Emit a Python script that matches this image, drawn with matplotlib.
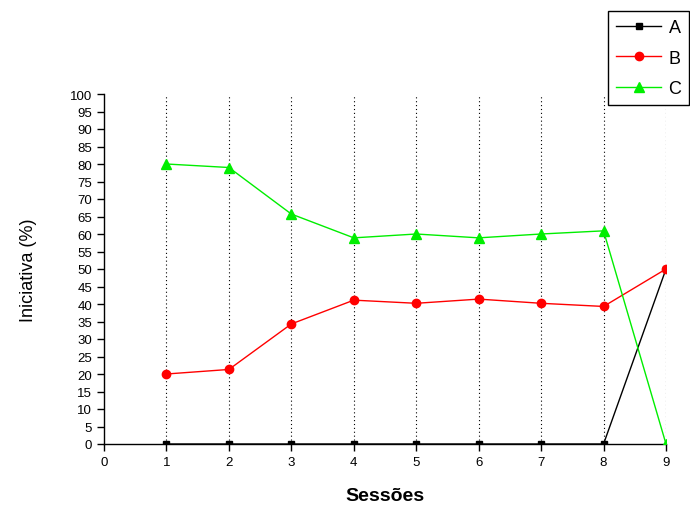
import matplotlib
matplotlib.use("Agg")
import matplotlib.pyplot as plt

sessions = [1, 2, 3, 4, 5, 6, 7, 8, 9]
serie_a = [0, 0, 0, 0, 0, 0, 0, 0, 50]
serie_b = [20, 21.3, 34.3, 41.1, 40.2, 41.4, 40.2, 39.3, 50]
serie_c = [80, 79, 65.7, 58.9, 60, 58.9, 60, 60.9, 0]
labels = ["A", "B", "C"]

plt.rcParams['font.family'] = ['Liberation Sans', 'DejaVu Sans']

fig = plt.figure(figsize=(6.9, 5.06), dpi=100)
ax = fig.add_axes([104/690, 1-445/506, (666-104)/690, (445-95)/506])

for x in sessions:
    ax.axvline(x, color='black', linestyle=(0, (1, 2.5)), linewidth=0.8, zorder=1)

ax.plot(sessions, serie_a, color='black', marker='s', markersize=5, linewidth=1, label=labels[0], zorder=3)
ax.plot(sessions, serie_b, color='#ff0000', marker='o', markersize=6, linewidth=1, label=labels[1], zorder=4)
ax.plot(sessions, serie_c, color='#00ee00', marker='^', markersize=7, linewidth=1, label=labels[2], zorder=5)

ax.set_xlim(0, 9)
ax.set_ylim(0, 100)
ax.set_xticks(range(0, 10))
ax.set_yticks(range(0, 101, 5))
ax.spines['top'].set_visible(False)
ax.spines['right'].set_visible(False)
ax.tick_params(axis='both', labelsize=9.5, direction='out', length=5, width=1)
ax.set_xlabel('Sessões', fontsize=14, fontweight='bold', labelpad=14)
ax.set_ylabel('Iniciativa (%)', fontsize=13, labelpad=24)
for sp in ax.spines.values():
    sp.set_linewidth(1)

leg = fig.legend(loc='upper left', bbox_to_anchor=(608/690, 1-12/506), fontsize=13,
                 frameon=True, fancybox=False, edgecolor='black', framealpha=1,
                 handlelength=2.5, handletextpad=0.4, borderpad=0.45, labelspacing=0.75,
                 borderaxespad=0)
leg.get_frame().set_linewidth(1)

fig.savefig('out.png', dpi=100)
